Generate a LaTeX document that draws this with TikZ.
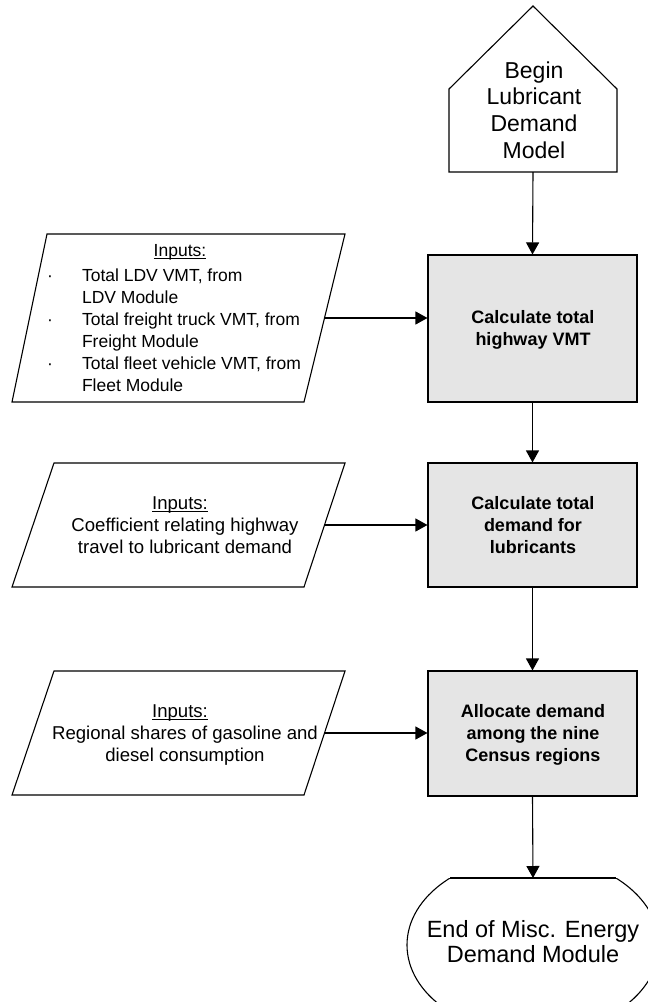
\documentclass[tikz,border=0pt]{standalone}
\usepackage{fontspec}
\setmainfont{Liberation Sans}
\usetikzlibrary{arrows.meta}
\definecolor{boxgray}{RGB}{229,229,229}
\newlength\ulw
\newcommand\myul[1]{\settowidth{\ulw}{#1}\makebox[0pt][l]{\rule[-2.6pt]{\ulw}{1.1pt}}#1}
\begin{document}
\begin{tikzpicture}[x=1pt,y=-1pt,
  line width=1.1pt,
  arr/.style={-{Triangle[length=12pt,width=13pt]}},
  proc/.style={draw, fill=boxgray, minimum width=209pt, inner sep=0pt},
  txt/.style={inner sep=0pt, anchor=base},
  big/.style={font=\fontsize{23}{26.7}\selectfont},
  endfont/.style={font=\fontsize{23.5}{25.3}\selectfont},
  boldtxt/.style={font=\fontsize{18}{22}\selectfont\bfseries},
  intxt/.style={font=\fontsize{18.6}{22}\selectfont},
  listtxt/.style={font=\fontsize{17.5}{22}\selectfont}
]
\useasboundingbox (0,0) rectangle (648,1002);

% Begin shape
\draw (449,172) -- (449,89) -- (533,6) -- (617,89) -- (617,172) -- cycle;
\node[txt, big] (begin) at (534,78) {\begin{tabular}[t]{@{}c@{}}Begin\\Lubricant\\Demand\\Model\end{tabular}};
\coordinate (beginb) at (533,172);

% Process boxes
\node[proc, minimum height=147pt] (b1) at (532.5,328.5) {};
\node[proc, minimum height=124pt] (b2) at (532.5,525) {};
\node[proc, minimum height=125pt] (b3) at (532.5,733.5) {};
\node[txt, boldtxt] (b1t) at (533,323.5) {\begin{tabular}[t]{@{}c@{}}Calculate total\\highway VMT\end{tabular}};
\node[txt, boldtxt] (b2t) at (533,509) {\begin{tabular}[t]{@{}c@{}}Calculate total\\demand for\\lubricants\end{tabular}};
\node[txt, boldtxt] (b3t) at (533,717) {\begin{tabular}[t]{@{}c@{}}Allocate demand\\among the nine\\Census regions\end{tabular}};

% Input parallelograms
\draw (47,234) -- (345,234) -- (304,402) -- (12,402) -- cycle;
\draw (54,463) -- (345,463) -- (304,587) -- (12,587) -- cycle;
\draw (54,671) -- (345,671) -- (304,795) -- (12,795) -- cycle;
\coordinate (in1e) at (324.5,318);
\coordinate (in2e) at (324.8,525);
\coordinate (in3e) at (324.8,733);

\node[txt, listtxt] (in1h) at (180,256) {\myul{Inputs:}};
\node[inner sep=0pt, anchor=base west, listtxt] (in1l) at (46.5,281) {\begin{tabular}[t]{@{}l@{}l@{}}
\makebox[35pt][l]{·} & Total LDV VMT, from\\
 & LDV Module\\
\makebox[35pt][l]{·} & Total freight truck VMT, from\\
 & Freight Module\\
\makebox[35pt][l]{·} & Total fleet vehicle VMT, from\\
 & Fleet Module\end{tabular}};

\node[txt, intxt] (in2h) at (180,509) {\myul{Inputs:}};
\node[txt, intxt] (in2l) at (185,531) {\begin{tabular}[t]{@{}c@{}}Coefficient relating highway\\travel to lubricant demand\end{tabular}};

\node[txt, intxt] (in3h) at (180,717) {\myul{Inputs:}};
\node[txt, intxt] (in3l) at (185,739) {\begin{tabular}[t]{@{}c@{}}Regional shares of gasoline and\\diesel consumption\end{tabular}};

% End shape
\begin{scope}
\clip (0,878) rectangle (648,1002);
\draw (533,945) ellipse [x radius=126, y radius=89];
\end{scope}
\draw (450.1,878) -- (615.9,878);
\coordinate (endtop) at (533,878);
\node[txt, endfont] (endt) at (533,937) {\begin{tabular}[t]{@{}c@{}}End of Misc. Energy\\Demand Module\end{tabular}};

% Connectors
\draw[arr] (beginb) -- (b1.north);
\draw[arr] (b1.south) -- (b2.north);
\draw[arr] (b2.south) -- (b3.north);
\draw[arr] (b3.south) -- (endtop);
\draw[arr] (in1e) -- (in1e -| b1.west);
\draw[arr] (in2e) -- (in2e -| b2.west);
\draw[arr] (in3e) -- (in3e -| b3.west);
\end{tikzpicture}
\end{document}
